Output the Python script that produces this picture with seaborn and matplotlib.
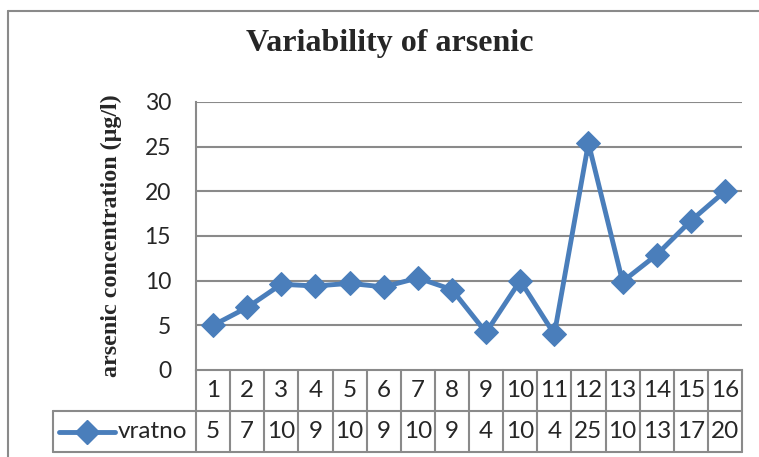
import matplotlib
matplotlib.use("Agg")
import matplotlib.pyplot as plt
import seaborn as sns
import pandas as pd
from matplotlib.lines import Line2D

categories = list(range(1, 17))
values = [5.0, 7.0, 9.6, 9.4, 9.7, 9.3, 10.3, 9.0, 4.2, 10.0, 4.0, 25.4, 9.9, 12.9, 16.7, 20.0]
table_labels = ["5", "7", "10", "9", "10", "9", "10", "9", "4", "10", "4", "25", "10", "13", "17", "20"]
series_name = "vratno"
title = "Variability of arsenic"
ylabel = "arsenic concentration (\u00b5g/l)"
yticks = [0, 5, 10, 15, 20, 25, 30]

W, H = 759, 457
sns.set_theme(style="white")
plt.rcParams["font.family"] = ["Lato", "DejaVu Sans"]

fig = plt.figure(figsize=(W / 100, H / 100), dpi=100)
fig.patch.set_facecolor("white")

L, R, T, B = 196, 742, 102, 370
ax = fig.add_axes([L / W, 1 - B / H, (R - L) / W, (B - T) / H])

blue = "#4A7EBB"
grey = "#8A8A8A"
MS = 12
LW = 3.5
df = pd.DataFrame({"cat": categories, "val": values})
sns.lineplot(data=df, x="cat", y="val", ax=ax, color=blue, linewidth=LW,
             marker="D", markersize=MS, markeredgecolor=blue, markerfacecolor=blue,
             clip_on=False, zorder=5)

ax.set_xlim(0.5, 16.5)
ax.set_ylim(0, 30)
ax.set_yticks(yticks)
ax.set_yticklabels([str(v) for v in yticks], fontsize=16.5)
ax.tick_params(axis="y", length=0, pad=18)
ax.set_xticks([])
ax.set_xlabel("")
ax.set_ylabel("")
for y in yticks[1:]:
    ax.axhline(y, color=grey, lw=1.5, zorder=1)
for s in ["top", "right"]:
    ax.spines[s].set_visible(False)
for s in ["left", "bottom"]:
    ax.spines[s].set_color(grey)
    ax.spines[s].set_linewidth(1.5)

# data table below the axis (x in data, y in axes fraction)
tr = ax.get_xaxis_transform()
r1 = -41 / (B - T)
r2 = -82 / (B - T)
for i in range(len(categories) + 1):
    ax.add_line(Line2D([0.5 + i, 0.5 + i], [0, r2], transform=tr, color=grey, lw=1.5, clip_on=False))
ax.add_line(Line2D([0.5, 16.5], [r1, r1], transform=tr, color=grey, lw=1.5, clip_on=False))
ax.add_line(Line2D([0.5, 16.5], [r2, r2], transform=tr, color=grey, lw=1.5, clip_on=False))
for c, lab in zip(categories, table_labels):
    ax.text(c, r1 / 2, str(c), transform=tr, ha="center", va="center", fontsize=17.5)
    ax.text(c, (r1 + r2) / 2, lab, transform=tr, ha="center", va="center", fontsize=17.5)

# legend cell
ftr = fig.transFigure
lx0 = 53 / W
ytop = 1 - 411 / H
ybot = 1 - 452 / H
fig.add_artist(Line2D([lx0, L / W], [ytop, ytop], transform=ftr, color=grey, lw=1.5))
fig.add_artist(Line2D([lx0, L / W], [ybot, ybot], transform=ftr, color=grey, lw=1.5))
fig.add_artist(Line2D([lx0, lx0], [ytop, ybot], transform=ftr, color=grey, lw=1.5))
ymid = (ytop + ybot) / 2
fig.add_artist(Line2D([59 / W, 115 / W], [ymid, ymid], transform=ftr, color=blue, lw=LW,
                      solid_capstyle="round"))
fig.add_artist(Line2D([87 / W], [ymid], transform=ftr, color=blue, marker="D",
                      markersize=MS, markeredgecolor=blue, markerfacecolor=blue, lw=0))
fig.text(118 / W, ymid, series_name, ha="left", va="center", fontsize=17.5)

# outer chart border (partially cropped)
fig.add_artist(Line2D([8 / W, 1], [1 - 11 / H, 1 - 11 / H], transform=ftr, color=grey, lw=1.5))
fig.add_artist(Line2D([8 / W, 8 / W], [1 - 11 / H, 0], transform=ftr, color=grey, lw=1.5))

fig.text(390 / W, 1 - 51 / H, title, ha="center", va="baseline", fontsize=23,
         fontweight="bold", family=["Liberation Serif", "DejaVu Serif"])
fig.text(111 / W, 1 - 236 / H, ylabel, ha="center", va="center", rotation=90, fontsize=17.3,
         fontweight="bold", family=["Liberation Serif", "DejaVu Serif"])

fig.savefig("out.png", dpi=100, facecolor="white")
